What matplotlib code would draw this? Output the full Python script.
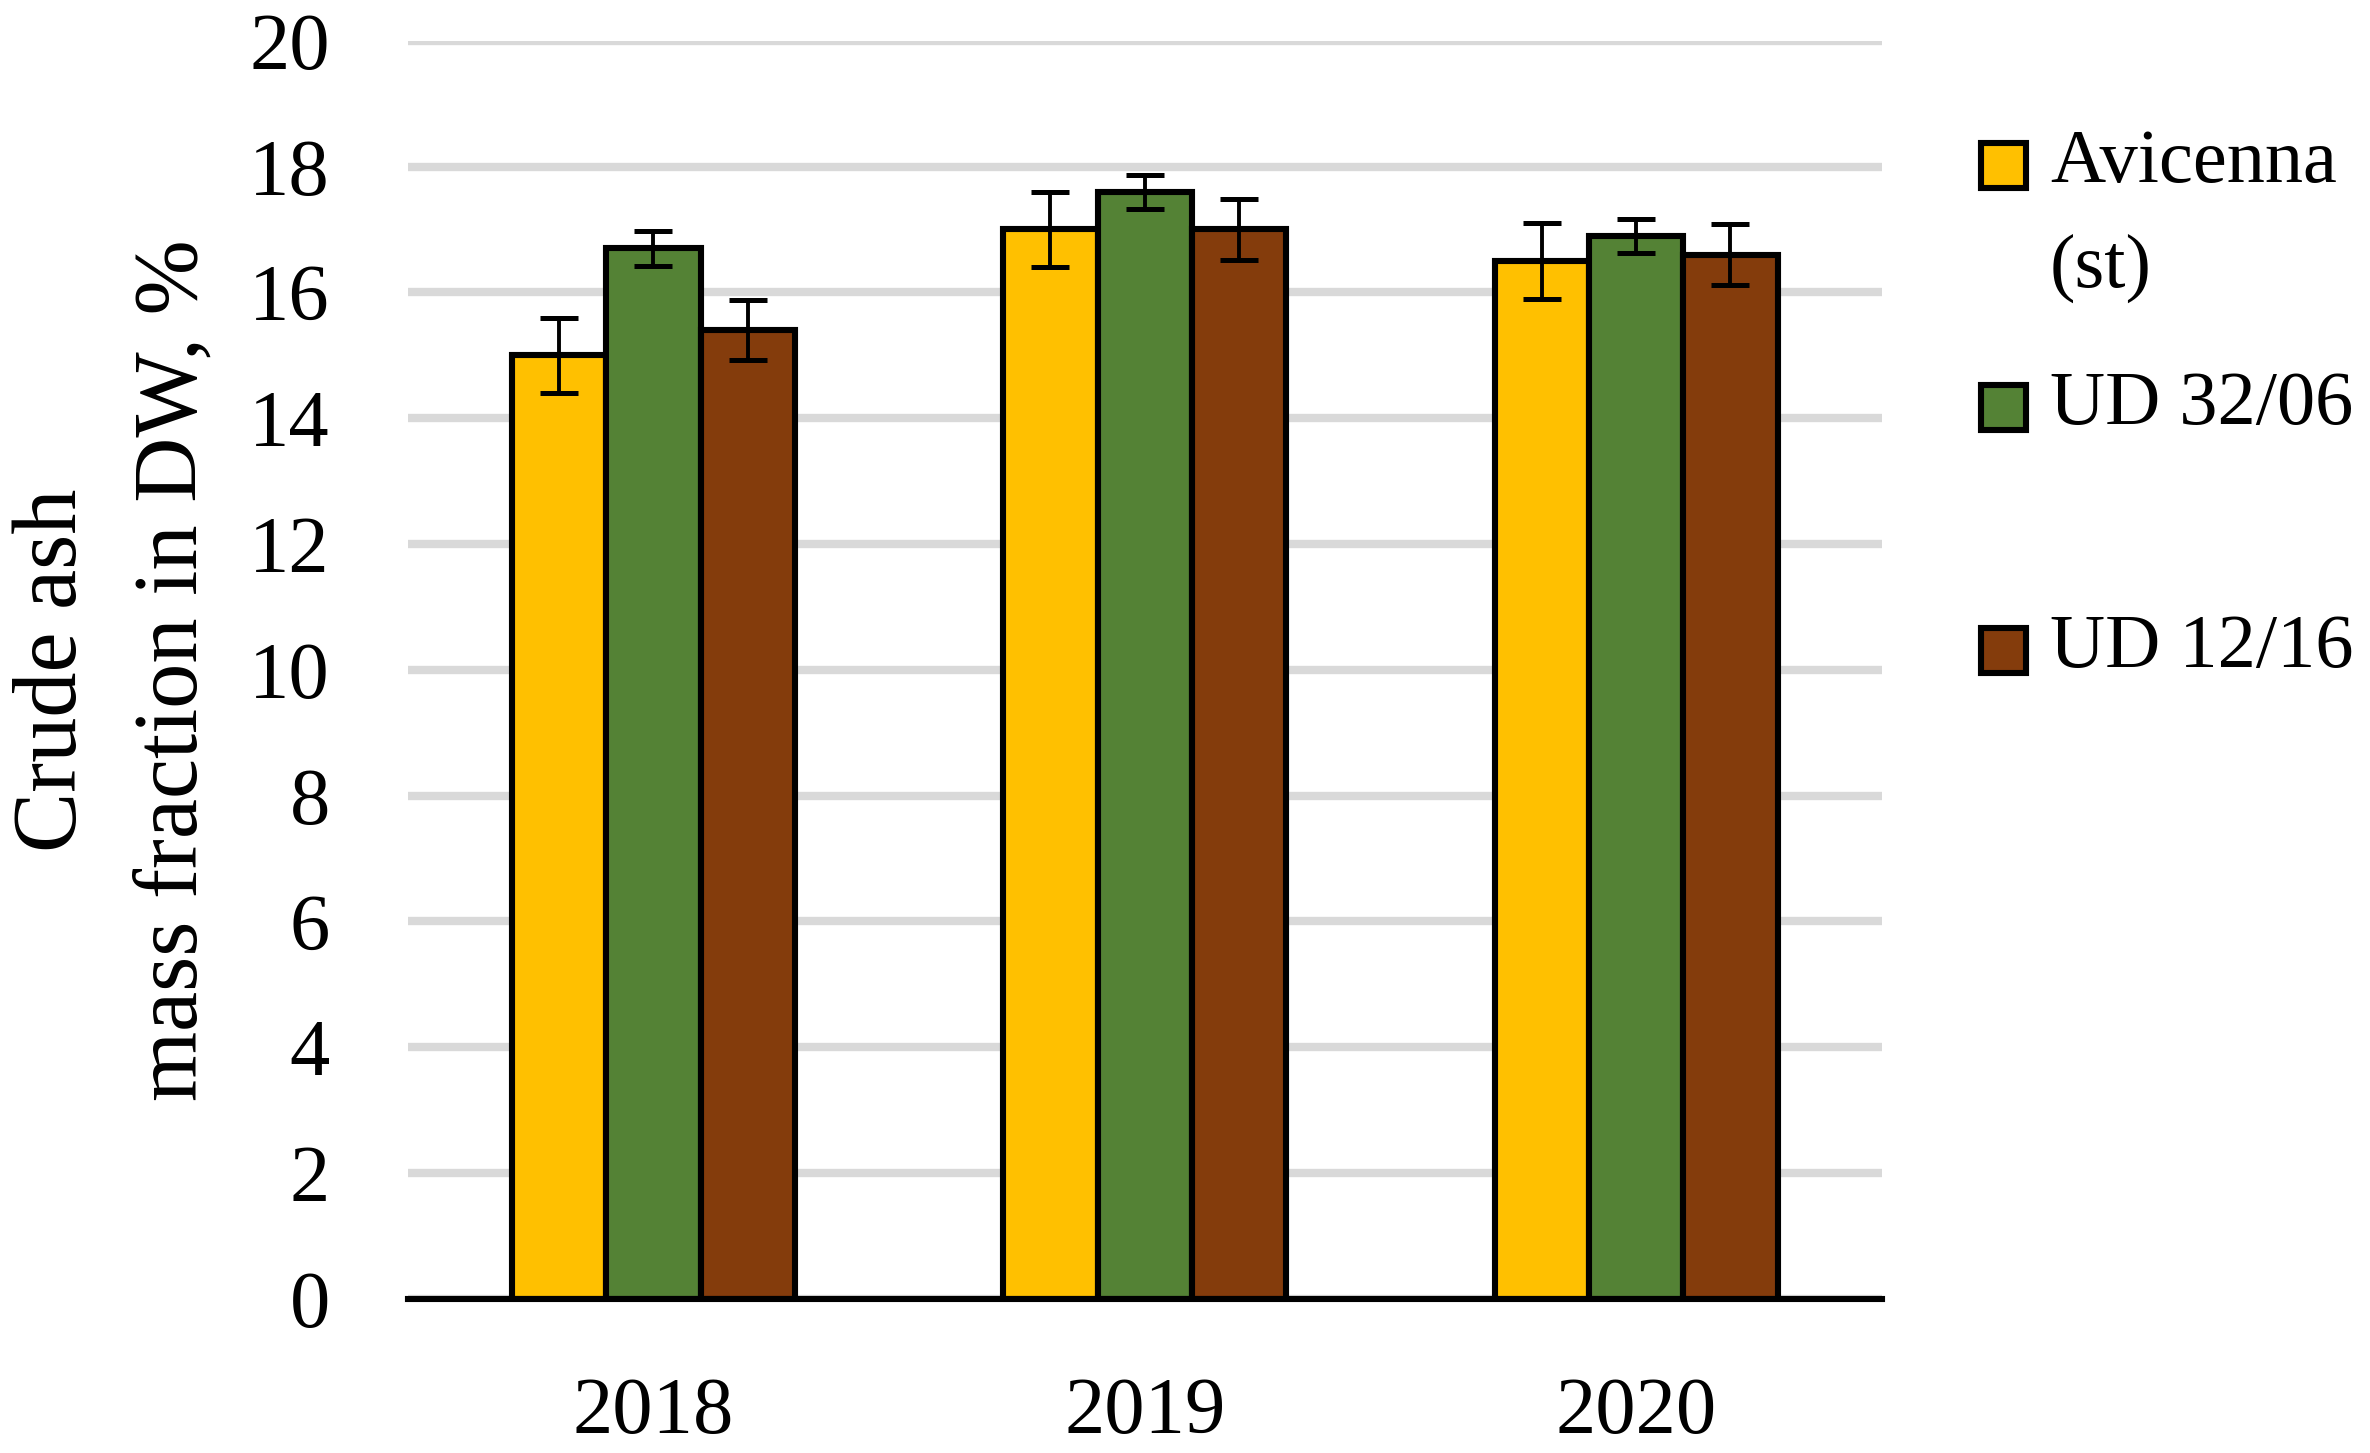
import matplotlib
matplotlib.use("Agg")
import matplotlib.pyplot as plt
import numpy as np
from matplotlib.patches import Rectangle

# data
years = ["2018", "2019", "2020"]
series = ["Avicenna\n(st)", "UD 32/06", "UD 12/16"]
colors = ["#FFC000", "#548235", "#843C0C"]
avicenna = [15.0, 17.0, 16.5]
ud3206 = [16.7, 17.6, 16.9]
ud1216 = [15.4, 17.0, 16.6]
err_avicenna = [0.6, 0.6, 0.6]
err_ud3206 = [0.28, 0.27, 0.27]
err_ud1216 = [0.48, 0.48, 0.48]

values = [avicenna, ud3206, ud1216]
errors = [err_avicenna, err_ud3206, err_ud1216]

plt.rcParams['font.family'] = ['Liberation Serif', 'DejaVu Serif']

fig = plt.figure(figsize=(11.85, 7.265), dpi=200)
ax = fig.add_axes([0.172, 0.106, 0.622, 0.866])

x = np.arange(len(years))
w = 0.192
for i, (vals, errs, c) in enumerate(zip(values, errors, colors)):
    ax.bar(x + (i - 1) * w, vals, w, color=c, edgecolor="black", linewidth=2.2, zorder=3)
    ax.errorbar(x + (i - 1) * w, vals, yerr=errs, fmt="none", ecolor="black",
                elinewidth=1.4, capsize=7, capthick=1.8, zorder=4)

ax.set_xlim(-0.5, 2.5)
ax.set_ylim(0, 20)
ax.set_yticks(np.arange(0, 21, 2))
ax.set_xticks(x)
ax.set_xticklabels(years)
ax.tick_params(axis="both", length=0, labelsize=29)
ax.tick_params(axis="y", pad=28)
ax.tick_params(axis="x", pad=28)
ax.yaxis.grid(True, color="#D9D9D9", linewidth=3, zorder=0)
ax.set_axisbelow(True)
for s in ["top", "right", "left"]:
    ax.spines[s].set_visible(False)
ax.spines["bottom"].set_linewidth(2.2)
ax.spines["bottom"].set_zorder(5)

ax.set_ylabel("Crude ash\nmass fraction in DW, %", fontsize=32.5, linespacing=1.6, labelpad=12)

# legend drawn by hand so the square sits beside the first text line
ys = [0.8875, 0.721, 0.554]
dy = 0.0719
for name, c, yy in zip(series, colors, ys):
    fig.add_artist(Rectangle((0.836, yy - 0.017), 0.019, 0.031, facecolor=c,
                             edgecolor="black", linewidth=2.2, transform=fig.transFigure))
    for k, line in enumerate(name.split("\n")):
        fig.text(0.865, yy - k * dy, line, fontsize=27.5, va="center", ha="left")

fig.savefig("out.png", dpi=200)
